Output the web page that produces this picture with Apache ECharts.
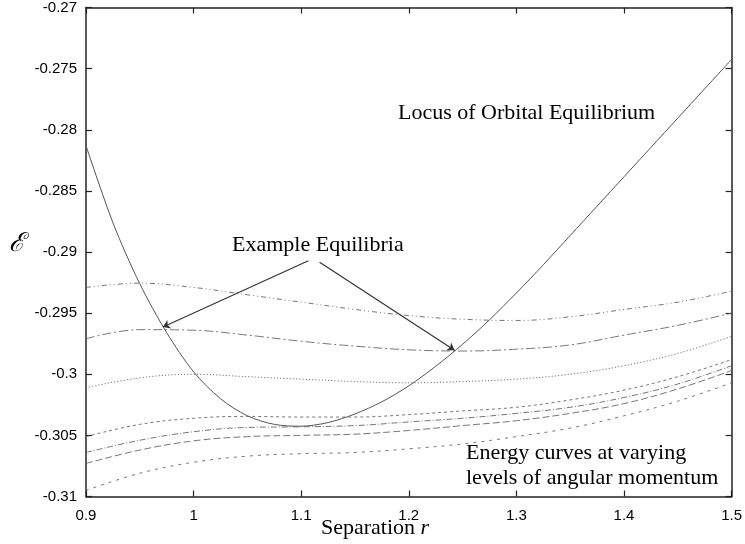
<!DOCTYPE html>
<html>
<head>
<meta charset="utf-8">
<script src="https://cdn.jsdelivr.net/npm/echarts@6/dist/echarts.min.js"></script>
<style>html,body{margin:0;padding:0;background:#fff}#c{width:745px;height:544px}</style>
</head>
<body>
<div id="c"></div>
<script>
// ---- data ----
const xTicks = [0.9, 1.0, 1.1, 1.2, 1.3, 1.4, 1.5];
const energyX = [0.9, 0.95, 1.0, 1.05, 1.1, 1.15, 1.2, 1.25, 1.3, 1.35, 1.4, 1.45, 1.5];
const energy1 = [-0.2929, -0.29255, -0.2929, -0.2935, -0.2941, -0.2947, -0.2952, -0.2955, -0.2956, -0.2953, -0.2947, -0.2941, -0.2932];
const energy2 = [-0.2971, -0.29635, -0.2964, -0.2968, -0.2973, -0.2977, -0.2980, -0.2981, -0.29795, -0.2976, -0.2968, -0.2960, -0.2950];
const energy3 = [-0.3011, -0.3003, -0.3000, -0.3002, -0.3004, -0.3006, -0.3007, -0.3006, -0.3004, -0.3000, -0.2993, -0.2983, -0.2969];
const energy4 = [-0.3051, -0.3041, -0.3036, -0.30345, -0.3035, -0.3035, -0.3033, -0.3030, -0.3027, -0.3021, -0.3013, -0.3002, -0.2988];
const energy5 = [-0.3064, -0.3054, -0.3047, -0.30435, -0.3043, -0.3042, -0.3039, -0.3036, -0.3032, -0.3027, -0.3019, -0.3008, -0.2993];
const energy6 = [-0.3073, -0.3062, -0.30545, -0.3051, -0.3050, -0.3049, -0.3046, -0.3042, -0.3038, -0.3032, -0.3024, -0.3012, -0.2997];
const energy7 = [-0.3095, -0.3081, -0.3072, -0.3067, -0.3065, -0.3064, -0.3061, -0.3057, -0.3051, -0.3044, -0.3034, -0.3022, -0.3007];
const locusX = [0.9, 0.925, 0.95, 0.975, 1.0, 1.025, 1.05, 1.075, 1.1, 1.125, 1.15, 1.175, 1.2, 1.225, 1.25, 1.275, 1.3, 1.325, 1.35, 1.375, 1.4, 1.425, 1.45, 1.475, 1.5];
const locusY = [-0.2813, -0.2876, -0.2926, -0.2966, -0.2998, -0.3020, -0.3034, -0.3041, -0.30425, -0.30395, -0.30325, -0.30225, -0.30095, -0.29935, -0.29755, -0.29555, -0.29335, -0.29105, -0.28865, -0.28625, -0.28385, -0.28145, -0.27905, -0.27665, -0.27425];
const arrowFrom = [[1.1067, -0.29072], [1.1171, -0.29083]];
const arrowTo = [[0.9715, -0.29614], [1.2425, -0.29804]];

// ---- build ----
const zip = (xs, ys) => xs.map((x, i) => [x, ys[i]]);
const energySets = [energy1, energy2, energy3, energy4, energy5, energy6, energy7];
const dashes = [[5,3,1,3,1,3],[9,3,2,3],[1.2,2],[3,3],[6,2,1,2],[7,3],[3,5]];
const series = energySets.map((ys, i) => ({
  type: 'line', data: zip(energyX, ys), smooth: 0.4, symbol: 'none', silent: true,
  lineStyle: { color: '#666', width: 0.9, type: dashes[i] }, z: 2
}));
series.push({
  type: 'line', data: zip(locusX, locusY), smooth: 0.3, symbol: 'none', silent: true,
  lineStyle: { color: '#555', width: 1 }, z: 3
});
series.push({
  type: 'lines', coordinateSystem: 'cartesian2d', silent: true,
  symbol: ['none', 'arrow'], symbolSize: 7,
  lineStyle: { color: '#333', width: 1.2, opacity: 1 },
  data: arrowFrom.map((f, i) => ({ coords: [f, arrowTo[i]] })), z: 4
});

const fmt = v => String(parseFloat(Number(v).toFixed(4)));
const axisCommon = {
  axisLine: { show: true, lineStyle: { color: '#222', width: 1.5 } },
  axisTick: { show: true, inside: true, length: 6, lineStyle: { color: '#222', width: 1.2 } },
  splitLine: { show: false }
};
const chart = echarts.init(document.getElementById('c'), null, { renderer: 'canvas' });
chart.setOption({
  animation: false,
  backgroundColor: '#fff',
  grid: { left: 86, right: 13, top: 4.5, bottom: 47.5 },
  xAxis: [
    Object.assign({ type: 'value', min: xTicks[0], max: xTicks[xTicks.length - 1], interval: 0.1, position: 'bottom',
      axisLabel: { formatter: fmt, color: '#000', fontFamily: 'Liberation Sans', fontSize: 15, margin: 12 } }, axisCommon),
    Object.assign({ type: 'value', min: xTicks[0], max: xTicks[xTicks.length - 1], interval: 0.1, position: 'top',
      axisLabel: { show: false } }, axisCommon)
  ],
  yAxis: [
    Object.assign({ type: 'value', min: -0.31, max: -0.27, interval: 0.005, position: 'left',
      axisLabel: { formatter: fmt, color: '#000', fontFamily: 'Liberation Sans', fontSize: 15, margin: 9 } }, axisCommon),
    Object.assign({ type: 'value', min: -0.31, max: -0.27, interval: 0.005, position: 'right',
      axisLabel: { show: false } }, axisCommon)
  ],
  series: series,
  graphic: [
    { type: 'text', left: 398, top: 102, style: { text: 'Locus of Orbital Equilibrium', font: '22px "Liberation Serif"', fill: '#000' } },
    { type: 'text', left: 232, top: 234, style: { text: 'Example Equilibria', font: '22px "Liberation Serif"', fill: '#000' } },
    { type: 'text', left: 466, top: 442, style: { text: 'Energy curves at varying', font: '22px "Liberation Serif"', fill: '#000' } },
    { type: 'text', left: 466, top: 467, style: { text: 'levels of angular momentum', font: '22px "Liberation Serif"', fill: '#000' } },
    { type: 'text', left: 321, top: 517, style: {
        text: '{a|Separation }{b|r}',
        rich: { a: { font: '22px "Liberation Serif"', fill: '#000' }, b: { font: 'italic 22px "Liberation Serif"', fill: '#000' } } } },
    { type: 'text', left: 9, top: 231, style: { text: '\u2130', font: 'italic 26px "DejaVu Serif"', fill: '#000' } }
  ]
});
</script>
</body>
</html>
